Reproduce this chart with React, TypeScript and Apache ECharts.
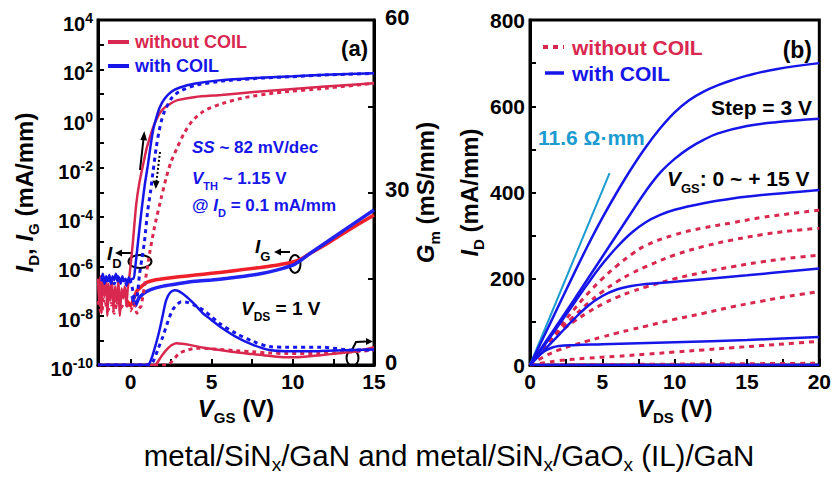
import { useEffect, useRef } from 'react';
import * as echarts from 'echarts';

const F = '"Liberation Sans", Arial, Helvetica, sans-serif';
const RED = '#d9284f';
const BLUE = '#1616e8';
const RED_IG = '#f0202a';
const BLUE_IG = '#2222f2';
const CYAN = '#1b9bd0';
const BLACK = '#000000';

// ---------- Panel (a): transfer curves (V_DS = 1 V) ----------
// x = V_GS (V); y = log10 of current (mA/mm); Gm in mS/mm
const vgsTicks = [0, 2.5, 5, 7.5, 10, 12.5, 15];
const vgsLabels = [0, 5, 10, 15];

// I_D without COIL, forward sweep (solid red)
const logIdWithoutFwd = [
  [-2.0, -6.5], [-1.92, -7.6], [-1.85, -6.4], [-1.78, -7.9], [-1.7, -6.6], [-1.6, -7.2], [-1.5, -6.5],
  [-1.42, -8.0], [-1.35, -6.7], [-1.25, -7.4], [-1.15, -6.5], [-1.05, -7.8], [-0.95, -6.8], [-0.85, -7.5],
  [-0.75, -6.6], [-0.65, -8.0], [-0.55, -6.9], [-0.45, -7.3], [-0.35, -6.8], [-0.25, -7.6], [-0.17, -6.9],
  [-0.1, -6.6], [0.0, -6.0], [0.15, -5.0], [0.35, -3.5], [0.55, -2.6], [0.8, -1.8], [1.0, -1.2],
  [1.2, -0.75], [1.4, -0.35], [1.7, 0.1], [2.0, 0.38], [2.5, 0.62], [2.9, 0.75], [4, 0.88],
  [5.6, 0.96], [8, 1.1], [10, 1.2], [12, 1.3], [15, 1.43],
];
// I_D without COIL, reverse sweep (dotted red)
const logIdWithoutRev = [
  [-2.0, -7.4], [-1.8, -7.9], [-1.6, -7.3], [-1.4, -7.8], [-1.2, -7.5], [-1.0, -7.9], [-0.8, -7.4],
  [-0.6, -7.7], [-0.4, -7.5], [-0.2, -7.6], [0.0, -7.8], [0.2, -7.5], [0.4, -7.9], [0.55, -7.7],
  [0.66, -7.6], [0.86, -6.8], [1.17, -5.5], [1.48, -4.4], [1.9, -3.2], [2.2, -2.4], [2.5, -1.75],
  [2.9, -1.15], [3.3, -0.6], [3.8, -0.1], [4.5, 0.3], [5.5, 0.58], [7, 0.85], [9, 1.05], [12, 1.23], [15, 1.43],
];
// I_D with COIL, forward sweep (solid blue)
const logIdWithFwd = [
  [-1.8, -6.5], [-1.7, -6.3], [-1.6, -6.7], [-1.5, -6.4], [-1.4, -6.6], [-1.3, -6.35], [-1.2, -6.7],
  [-1.1, -6.4], [-1.0, -6.55], [-0.9, -6.3], [-0.8, -6.6], [-0.7, -6.45], [-0.6, -6.7], [-0.5, -6.4],
  [-0.4, -6.6], [-0.3, -6.5], [-0.2, -6.7], [-0.1, -6.45], [0.0, -6.6], [0.1, -6.5], [0.2, -6.5],
  [0.3, -6.0], [0.45, -5.1], [0.6, -4.2], [0.76, -3.3], [0.9, -2.6], [1.07, -1.9], [1.25, -1.05],
  [1.4, -0.45], [1.6, 0.05], [1.8, 0.45], [2.1, 0.8], [2.5, 1.08], [3, 1.25], [4, 1.42], [5.6, 1.56],
  [8, 1.66], [10, 1.72], [12, 1.78], [15, 1.84],
];
// I_D with COIL, reverse sweep (dotted blue)
const logIdWithRev = [
  [-1.8, -6.6], [-1.6, -6.4], [-1.4, -6.7], [-1.2, -6.5], [-1.0, -6.7], [-0.8, -6.4], [-0.6, -6.6],
  [-0.4, -6.5], [-0.2, -6.8], [0.0, -6.6], [0.15, -7.0], [0.25, -7.3], [0.35, -7.5], [0.45, -7.0],
  [0.56, -6.3], [0.7, -5.7], [0.86, -5.0], [1.07, -3.7], [1.25, -2.9], [1.4, -2.1], [1.58, -1.2],
  [1.75, -0.55], [1.9, -0.1], [2.1, 0.3], [2.5, 0.8], [3, 1.1], [4, 1.35], [5.6, 1.52], [8, 1.64],
  [10, 1.7], [12, 1.77], [15, 1.83],
];
// I_G
const logIgWithout = [
  [-0.2, -7.4], [0.0, -7.6], [0.2, -7.3], [0.4, -7.0], [0.7, -6.8], [1.0, -6.65], [1.5, -6.55], [2, -6.5],
  [3, -6.42], [4, -6.35], [5, -6.28], [6, -6.21], [7, -6.12], [8, -6.04], [9, -5.95], [10, -5.82],
  [10.5, -5.7], [11, -5.5], [12, -5.12], [13, -4.7], [14, -4.3], [15, -3.91],
];
const logIgWith = [
  [0.1, -7.2], [0.3, -7.6], [0.5, -7.3], [0.8, -7.1], [1.2, -6.95], [2, -6.8], [3, -6.69], [4, -6.6],
  [5, -6.55], [6, -6.48], [7, -6.4], [8, -6.3], [9, -6.15], [10, -5.95], [10.5, -5.75], [11, -5.5],
  [12, -5.05], [13, -4.6], [14, -4.15], [15, -3.71],
];
// G_m (mS/mm)
const gmWithoutFwd = [
  [-2, 0], [1.5, 0], [1.58, 0.1], [1.9, 1.5], [2.2, 2.6], [2.5, 3.4], [2.82, 3.8], [3.2, 3.7], [3.64, 3.5],
  [4.5, 3.0], [5.5, 2.6], [6.5, 2.2], [7.55, 1.9], [8.5, 1.6], [9.6, 1.35], [10.5, 1.4], [11.7, 1.7],
  [12.7, 2.0], [13.7, 2.3], [14.4, 2.7], [15, 3.1],
];
const gmWithoutRev = [
  [-2, 0], [2.2, 0], [2.4, 0.2], [2.7, 1.1], [3.0, 2.0], [3.5, 2.6], [4.05, 2.9], [4.8, 2.85], [5.5, 2.7],
  [6.5, 2.5], [7.55, 2.3], [8.5, 2.1], [9.6, 2.0], [11.7, 2.0], [13.7, 2.3], [15, 2.6],
];
const gmWithFwd = [
  [-2, 0], [0.9, 0], [1.17, 0.3], [1.5, 3], [1.79, 6.1], [2.0, 8.8], [2.2, 11.3], [2.45, 12.6], [2.72, 13.0],
  [3.0, 12.8], [3.44, 11.9], [4.0, 10.4], [4.46, 9.0], [5.0, 7.8], [5.5, 6.7], [6.5, 4.9], [7.55, 3.5],
  [8.58, 2.6], [9.6, 2.4], [10.5, 2.4], [11.7, 2.45], [13.7, 2.6], [15, 2.7],
];
const gmWithRev = [
  [-2, 0], [1.2, 0], [1.38, 0.5], [1.7, 2.8], [1.99, 4.9], [2.3, 7.5], [2.6, 9.6], [2.9, 10.6], [3.13, 11.0],
  [3.5, 10.9], [4.0, 10.3], [4.46, 9.6], [5.0, 8.4], [5.5, 7.2], [6.5, 5.5], [7.55, 4.1], [8.58, 3.2],
  [9.6, 3.1], [11.7, 3.1], [13.7, 2.6], [15, 2.6],
];

// ---------- Panel (b): output curves, V_GS 0 ~ +15 V, step 3 V ----------
// x = V_DS (V); y = I_D (mA/mm)
const outWith0 = [[0, 0], [10, 0], [20, 0]];
const outWith3 = [[0, 0], [0.5, 18], [1, 32], [1.5, 40], [2, 44], [3, 46], [5, 48], [10, 53], [15, 58], [20, 65]];
const outWith6 = [[0, 0], [1, 35], [2, 70], [3, 105], [4, 137], [5, 160], [6, 175], [7, 183], [8, 188], [10, 193], [12, 199], [15, 208], [20, 224]];
const outWith9 = [[0, 0], [1, 46], [2, 93], [3, 141], [4, 189], [5, 234], [6, 273], [7, 306], [8, 331], [9, 348], [10, 360], [12, 375], [14, 386], [16, 394], [18, 400], [20, 406]];
const outWith12 = [[0, 0], [1, 50], [2, 99], [3, 149], [4, 200], [5, 251], [6, 302], [7, 353], [8, 403], [9, 446], [10, 478], [11, 503], [12, 522], [13, 537], [15, 554], [17, 563], [20, 571]];
const outWith15 = [[0, 0], [1, 69], [2, 139], [3, 209], [4, 277], [5, 341], [6, 400], [7, 455], [8, 505], [9, 549], [10, 586], [11, 614], [12, 634], [13, 649], [14, 661], [15, 671], [17, 686], [20, 700]];

const outWithout0 = [[0, 0], [5, 1], [10, 2], [15, 3], [20, 4]];
const outWithout3 = [[0, 0], [1, 5], [2, 10], [4, 16], [6, 20], [8, 25], [10, 30], [12, 35], [14, 40], [16, 45], [18, 50], [20, 55]];
const outWithout6 = [[0, 0], [1, 20], [2, 35], [3, 46], [4, 56], [5, 65], [6, 74], [7, 82], [8, 90], [10, 106], [12, 120], [14, 135], [16, 148], [18, 160], [20, 170]];
const outWithout9 = [[0, 0], [1, 40], [2, 74], [3, 100], [4, 122], [5, 141], [6, 157], [7, 170], [8, 181], [10, 200], [12, 215], [14, 228], [16, 239], [18, 248], [20, 255]];
const outWithout12 = [[0, 0], [1, 40], [2, 79], [3, 112], [4, 143], [5, 170], [6, 193], [7, 212], [8, 228], [10, 255], [12, 275], [14, 290], [16, 302], [18, 311], [20, 317]];
const outWithout15 = [[0, 0], [1, 42], [2, 85], [3, 127], [4, 166], [5, 200], [6, 230], [7, 256], [8, 277], [10, 302], [12, 318], [14, 330], [16, 342], [18, 351], [20, 359]];

// 11.6 Ω·mm on-resistance guide line
const ronLine = [[0, 0], [5.5, 445]];

// ---------- helpers ----------
const modelRich = (size: number, sub: number, drop: number, color = BLACK) => ({
  n: { fontSize: size, fontWeight: 'bold', fontFamily: F, color, verticalAlign: 'top' },
  i: { fontSize: size, fontWeight: 'bold', fontStyle: 'italic', fontFamily: F, color, verticalAlign: 'top' },
  s: { fontSize: sub, fontWeight: 'bold', fontFamily: F, color, verticalAlign: 'top', padding: [drop + size / 2 - sub / 2, 0, 0, 0] },
});

const gRich = (size: number, sub: number, drop: number, color: string, weight = 'bold') => ({
  n: { font: `${weight} ${size}px ${F}`, fill: color, verticalAlign: 'top' },
  i: { font: `italic ${weight} ${size}px ${F}`, fill: color, verticalAlign: 'top' },
  s: { font: `${weight} ${sub}px ${F}`, fill: color, verticalAlign: 'top', padding: [drop + size / 2 - sub / 2, 0, 0, 0] },
});

const T = (x: number, yc: number, text: string, size: number, color: string, align = 'left', sub = 0, drop = 0, weight = 'bold') => ({
  type: 'text',
  x,
  y: yc - size / 2,
  silent: true,
  style: {
    text,
    rich: gRich(size, sub || Math.round(size * 0.62), drop || Math.round(size * 0.45), color, weight),
    textAlign: align,
    textVerticalAlign: 'top',
    align,
    verticalAlign: 'top',
    fill: color,
  },
});

const L = (x1: number, y1: number, x2: number, y2: number, color: string, w: number, dash?: number[]) => ({
  type: 'line',
  silent: true,
  shape: { x1, y1, x2, y2 },
  style: { stroke: color, lineWidth: w, lineDash: dash || null },
});

const P = (points: number[][], color: string) => ({
  type: 'polygon', silent: true, shape: { points }, style: { fill: color },
});

const E = (cx: number, cy: number, rx: number, ry: number) => ({
  type: 'ellipse', silent: true, shape: { cx, cy, rx, ry }, style: { fill: 'none', stroke: BLACK, lineWidth: 2 },
});

const ser = (data: number[][], color: string, width: number, xi: number, yi: number, dash?: number[], smooth: number | boolean = 0.3) => ({
  type: 'line',
  data,
  xAxisIndex: xi,
  yAxisIndex: yi,
  symbol: 'none',
  smooth,
  silent: true,
  lineStyle: { color, width, type: dash || 'solid', cap: 'butt' },
});

const tickStyle = { inside: true, length: 6, lineStyle: { color: BLACK, width: 2 } };
const axisLineStyle = { show: true, onZero: false, lineStyle: { color: BLACK, width: 3 } };

export default function App() {
  const ref = useRef<HTMLDivElement>(null);
  useEffect(() => {
    if (!ref.current) return;
    const chart = echarts.init(ref.current, null, { renderer: 'svg' });
    const option: any = {
      animation: false,
      backgroundColor: '#ffffff',
      grid: [
        { left: 98, top: 20, width: 276, height: 345, show: true, borderColor: BLACK, borderWidth: 3, containLabel: false },
        { left: 530, top: 20, width: 290, height: 345, show: true, borderColor: BLACK, borderWidth: 3, containLabel: false },
      ],
      xAxis: [
        {
          gridIndex: 0, type: 'value', min: -2, max: 15,
          axisLine: axisLineStyle,
          axisTick: { ...tickStyle, customValues: vgsTicks },
          axisLabel: { customValues: vgsLabels, fontSize: 21, fontWeight: 'bold', fontFamily: F, color: BLACK, margin: 8, lineHeight: 16 },
          splitLine: { show: false },
          name: '{i|V}{s|GS}{n| (V)}', nameLocation: 'middle', nameGap: 30,
          nameTextStyle: { rich: modelRich(24, 15, 9) },
        },
        {
          gridIndex: 1, type: 'value', min: 0, max: 20, interval: 2.5,
          axisLine: axisLineStyle,
          axisTick: tickStyle,
          axisLabel: {
            formatter: (v: number) => (v % 5 === 0 ? String(v) : ''),
            fontSize: 21, fontWeight: 'bold', fontFamily: F, color: BLACK, margin: 8, lineHeight: 16,
          },
          splitLine: { show: false },
          name: '{i|V}{s|DS}{n| (V)}', nameLocation: 'middle', nameGap: 30,
          nameTextStyle: { rich: modelRich(24, 15, 9) },
        },
      ],
      yAxis: [
        {
          gridIndex: 0, type: 'value', min: -10, max: 4, interval: 1, position: 'left',
          axisLine: axisLineStyle,
          axisTick: tickStyle,
          axisLabel: {
            margin: 5,
            formatter: (v: number) => (Math.round(v) % 2 === 0 ? `{b|10}{p|${v}}` : ''),
            rich: {
              b: { fontSize: 20, fontWeight: 'bold', fontFamily: F, color: BLACK, verticalAlign: 'top', padding: [8, 0, 0, 0] },
              p: { fontSize: 14, fontWeight: 'bold', fontFamily: F, color: BLACK, verticalAlign: 'top', padding: [5, 0, 0, 0] },
            },
          },
          splitLine: { show: false },
          name: '{i|I}{s|D}{n|, }{i|I}{s|G}{n| (mA/mm)}', nameLocation: 'middle', nameGap: 57,
          nameTextStyle: { rich: modelRich(24, 15, 9) },
        },
        {
          gridIndex: 0, type: 'value', min: 0, max: 60, interval: 15, position: 'right',
          axisLine: axisLineStyle,
          axisTick: tickStyle,
          axisLabel: {
            margin: 11,
            formatter: (v: number) => (v % 30 === 0 ? `{r|${v}}` : ''),
            rich: {
              r: { fontSize: 22, fontWeight: 'bold', fontFamily: F, color: BLACK, padding: [0, 0, 6, 0] },
            },
          },
          splitLine: { show: false },
          name: '{i|G}{s|m}{n| (mS/mm)}', nameLocation: 'middle', nameGap: 27,
          nameTextStyle: { rich: modelRich(24, 15, 9) },
        },
        {
          gridIndex: 1, type: 'value', min: 0, max: 800, interval: 100, position: 'left',
          axisLine: axisLineStyle,
          axisTick: tickStyle,
          axisLabel: {
            margin: 5,
            formatter: (v: number) => (v % 200 === 0 ? String(v) : ''),
            fontSize: 21, fontWeight: 'bold', fontFamily: F, color: BLACK,
          },
          splitLine: { show: false },
          name: '{i|I}{s|D}{n| (mA/mm)}', nameLocation: 'middle', nameGap: 43,
          nameTextStyle: { rich: modelRich(24, 15, 9) },
        },
      ],
      series: [
        // panel (a) gate current
        ser(logIgWithout, RED_IG, 3.5, 0, 0, undefined, 0.2),
        ser(logIgWith, BLUE_IG, 3.5, 0, 0, undefined, 0.2),
        // panel (a) transconductance
        ser(gmWithoutFwd, RED, 2.5, 0, 1),
        ser(gmWithoutRev, RED, 3, 0, 1, [4, 4]),
        ser(gmWithFwd, BLUE, 2.5, 0, 1),
        ser(gmWithRev, BLUE, 3, 0, 1, [4, 4]),
        // panel (a) drain current
        ser(logIdWithoutFwd, RED, 2.5, 0, 0, undefined, 0.2),
        ser(logIdWithoutRev, RED, 3, 0, 0, [4, 4], 0.2),
        ser(logIdWithFwd, BLUE, 2.5, 0, 0, undefined, 0.2),
        ser(logIdWithRev, BLUE, 3, 0, 0, [4, 4], 0.2),
        // panel (b)
        ser(outWithout0, RED, 3, 1, 2, [5, 5], 0.4),
        ser(outWithout3, RED, 3, 1, 2, [5, 5], 0.4),
        ser(outWithout6, RED, 3, 1, 2, [5, 5], 0.4),
        ser(outWithout9, RED, 3, 1, 2, [5, 5], 0.4),
        ser(outWithout12, RED, 3, 1, 2, [5, 5], 0.4),
        ser(outWithout15, RED, 3, 1, 2, [5, 5], 0.4),
        ser(ronLine, CYAN, 2, 1, 2, undefined, false),
        ser(outWith0, BLUE, 2.5, 1, 2, undefined, 0.4),
        ser(outWith3, BLUE, 2.5, 1, 2, undefined, 0.4),
        ser(outWith6, BLUE, 2.5, 1, 2, undefined, 0.4),
        ser(outWith9, BLUE, 2.5, 1, 2, undefined, 0.4),
        ser(outWith12, BLUE, 2.5, 1, 2, undefined, 0.4),
        ser(outWith15, BLUE, 2.5, 1, 2, undefined, 0.4),
      ],
      graphic: [
        // panel (a) legend
        L(108, 42, 129, 42, RED, 4),
        T(135, 42, '{n|without COIL}', 18, RED),
        L(108, 66, 129, 66, BLUE, 4),
        T(135, 66, '{n|with COIL}', 18, BLUE),
        T(368, 48, '{n|(a)}', 22, BLACK, 'right'),
        T(192, 147, '{i|SS}{n| ~ 82 mV/dec}', 17, BLUE),
        T(192, 178, '{i|V}{s|TH}{n| ~ 1.15 V}', 17, BLUE, 'left', 11, 8),
        T(192, 205, '{n|@ }{i|I}{s|D}{n| = 0.1 mA/mm}', 17, BLUE, 'left', 11, 8),
        T(241, 308, '{i|V}{s|DS}{n| = 1 V}', 19, BLACK, 'left', 12, 9),
        // I_D marker
        T(107, 253, '{i|I}{s|D}', 19, BLACK, 'left', 13, 10),
        L(131, 253, 121, 253, BLACK, 2),
        P([[115, 253], [122, 249.5], [122, 256.5]], BLACK),
        E(140, 261.5, 11.5, 6.5),
        // I_G marker
        T(255, 246, '{i|I}{s|G}', 19, BLACK, 'left', 13, 10),
        L(290, 252, 280, 252, BLACK, 2),
        P([[274, 252], [281, 248.5], [281, 255.5]], BLACK),
        E(295, 264, 5.5, 9),
        // Gm marker
        E(352.5, 358, 6, 8),
        { type: 'polyline', silent: true, shape: { points: [[352, 350], [356, 342], [366, 341.5]] }, style: { stroke: BLACK, lineWidth: 2, fill: 'none' } },
        P([[373, 341.5], [366, 338], [366, 345]], BLACK),
        // sweep arrows
        L(140, 170, 143.5, 139, BLACK, 2),
        P([[144.3, 131], [140.3, 140], [147, 140.6]], BLACK),
        L(160, 152, 156.5, 181, BLACK, 2, [2, 2]),
        P([[155.8, 189], [152.5, 180.5], [159.5, 181.3]], BLACK),
        // panel (b) legend and notes
        L(543, 47, 564, 47, RED, 4, [5, 5]),
        T(572, 47, '{n|without COIL}', 21, RED),
        L(545, 73, 564, 73, BLUE, 3.5),
        T(572, 73, '{n|with COIL}', 21, BLUE),
        T(812, 50, '{n|(b)}', 23, BLACK, 'right'),
        T(812, 107, '{n|Step = 3 V}', 21, BLACK, 'right'),
        T(538, 137, '{n|11.6 Ω·mm}', 21, CYAN),
        T(667, 178, '{i|V}{s|GS}{n|: 0 ~ + 15 V}', 21, BLACK, 'left', 13, 10),
        // caption
        T(449, 455, '{n|metal/SiN}{s|x}{n|/GaN and metal/SiN}{s|x}{n|/GaO}{s|x}{n| (IL)/GaN}', 29.5, BLACK, 'center', 19, 9, 'normal'),
      ],
    };
    chart.setOption(option);
    return () => chart.dispose();
  }, []);
  return (
    <div
      ref={ref}
      style={{ position: 'fixed', left: 0, top: 0, width: 834, height: 483, background: '#ffffff' }}
    />
  );
}
